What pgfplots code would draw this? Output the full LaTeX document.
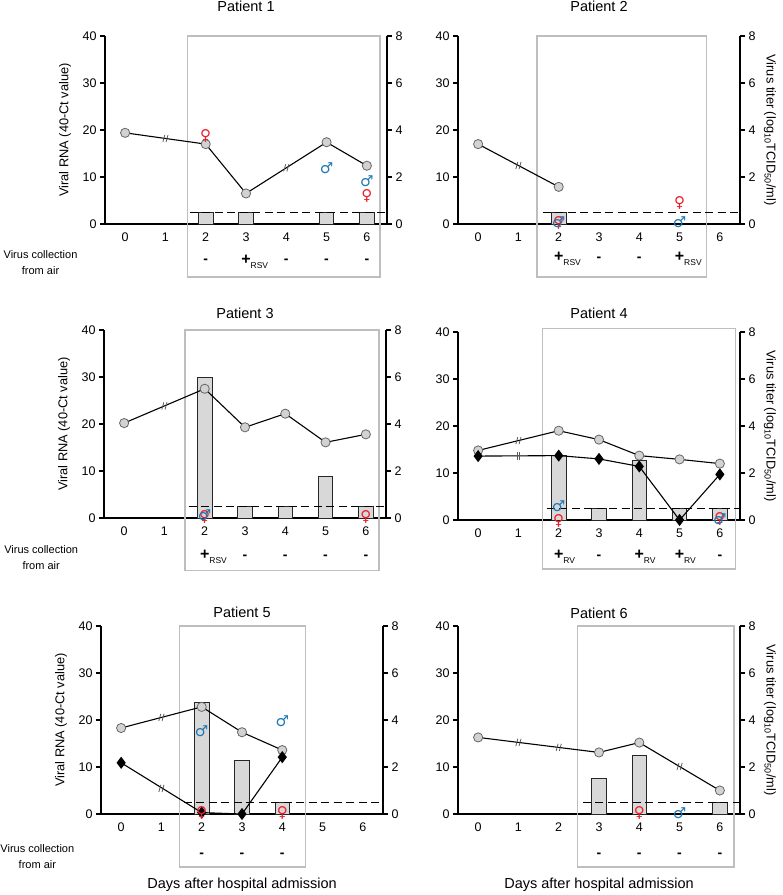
\documentclass[border=0pt]{standalone}
\usepackage{pgfplots}
\pgfplotsset{compat=1.18}
\usepackage{fontspec}
\setmainfont{Liberation Sans}
\newfontfamily\symfont{DejaVu Sans}

\definecolor{fem}{RGB}{235,30,40}
\definecolor{mal}{RGB}{30,120,180}
\definecolor{boxgray}{RGB}{190,190,190}
\definecolor{barfill}{RGB}{216,216,216}
\definecolor{circfill}{RGB}{210,210,210}

\pgfdeclareplotmark{brk}{%
  \pgfpathmoveto{\pgfqpoint{-2.6pt}{-3.6pt}}\pgfpathlineto{\pgfqpoint{-0.6pt}{3.6pt}}%
  \pgfpathmoveto{\pgfqpoint{0.6pt}{-3.6pt}}\pgfpathlineto{\pgfqpoint{2.6pt}{3.6pt}}%
  \pgfusepathqstroke}
\pgfdeclareplotmark{vbrk}{%
  \pgfpathmoveto{\pgfqpoint{-1.2pt}{-3.8pt}}\pgfpathlineto{\pgfqpoint{-1.2pt}{3.8pt}}%
  \pgfpathmoveto{\pgfqpoint{1.2pt}{-3.8pt}}\pgfpathlineto{\pgfqpoint{1.2pt}{3.8pt}}%
  \pgfusepathqstroke}

\newcommand{\plusv}[1]{\makebox[0pt][c]{\fontsize{16}{16}\selectfont\bfseries +\rlap{\raisebox{-4pt}{\mdseries\fontsize{8.5}{8.5}\selectfont #1}}}}
\newcommand{\minv}{\fontsize{14}{14}\selectfont\bfseries -}

\pgfplotsset{
  common/.style={width=282pt,height=188pt,scale only axis,anchor=south west,
    xmin=-0.5,xmax=6.5,
    axis line style={line width=1.5pt,-},
    tick align=outside, major tick length=5pt,
    tick style={line width=1.5pt,black},
    ticklabel style={font=\fontsize{12.5}{13}\selectfont},
    /pgf/number format/assume math mode=true,
    clip=false},
  panel/.style={common,ymin=0,ymax=40,
    axis x line*=bottom, axis y line*=left,
    xtick={0,...,6}, ytick={0,10,20,30,40},
    x tick style={draw=none},
    every axis title/.style={at={(0.5,1)},anchor=base,font=\fontsize{14.5}{15}\selectfont},
    every axis y label/.style={at={([xshift=-40pt]axis description cs:0,0.5)},rotate=90,anchor=center,font=\fontsize{12.8}{14}\selectfont}},
  rpanel/.style={common,ymin=0,ymax=8,
    axis x line=none, axis y line*=right, ytick={0,2,4,6,8},
    every axis y label/.style={at={([xshift=30pt]axis description cs:1,0.5)},rotate=-90,anchor=center,font=\fontsize{12.8}{14}\selectfont}},
  rna/.style={black,line width=1.1pt,mark=*,mark size=4.6pt,mark options={fill=circfill,draw=black!60,line width=0.8pt}},
  dia/.style={black,line width=1.1pt,mark=diamond*,mark size=5.2pt,mark options={fill=black}},
  bars/.style={ybar,bar width=14.5pt,fill=barfill,draw=black!85,line width=0.9pt},
  lod/.style={black,line width=1.3pt,dash pattern=on 8pt off 4.5pt},
  brks/.style={only marks,mark=brk,mark options={draw=black!65,line width=0.8pt,solid}},
  vbrks/.style={only marks,mark=vbrk,mark options={draw=black!65,line width=0.8pt,solid}},
  fsym/.style={only marks,fem,mark=text,text mark={♀},text mark as node=true,
    text mark style={font=\symfont\bfseries\fontsize{15}{15}\selectfont,text=fem,inner sep=0pt,anchor=center}},
  msym/.style={only marks,mal,mark=text,text mark={♂},text mark as node=true,
    text mark style={font=\symfont\bfseries\fontsize{15}{15}\selectfont,text=mal,inner sep=0pt,anchor=center}},
}
\newcommand{\rnalabel}{Viral RNA (40-Ct value)}
\newcommand{\titerlabel}{Virus titer (log\textsubscript{10}TCID\textsubscript{50}/ml)}
\newcommand{\vclabel}{Virus collection\\from air}

\begin{document}
\begin{tikzpicture}
\useasboundingbox (0,0) rectangle (783pt,-895pt);

% ---------------- Patient 1
\begin{axis}[panel,at={(105pt,-224pt)},title={Patient 1},title style={yshift=25pt},ylabel={\rnalabel}]
\draw[boxgray,line width=1.3pt] (axis cs:1.54,-11.3) rectangle (axis cs:6.33,40);
\addplot[bars] coordinates {(2,2.5)(3,2.5)(5,2.5)(6,2.5)};
\addplot[lod] coordinates {(1.6,2.5)(6.5,2.5)};
\addplot[rna] coordinates {(0,19.4)(2,17.0)(3,6.5)(5,17.4)(6,12.4)};
\addplot[brks] coordinates {(1,18.2)(4,11.95)};
\addplot[fsym] coordinates {(2,18.7)(6,5.9)};
\addplot[msym] coordinates {(5,11.9)(6,9.1)};
\node[align=center,font=\fontsize{11}{16}\selectfont] at (axis cs:-2.1,-8.1) {\vclabel};
\node at (axis cs:2,-8) {\minv};
\node at (axis cs:3,-8) {\plusv{RSV}};
\node at (axis cs:4,-8) {\minv};
\node at (axis cs:5,-8) {\minv};
\node at (axis cs:6,-8) {\minv};
\end{axis}
\begin{axis}[rpanel,at={(105pt,-224pt)}]
\end{axis}

% ---------------- Patient 2
\begin{axis}[panel,at={(458pt,-224pt)},title={Patient 2},title style={yshift=25pt}]
\draw[boxgray,line width=1.3pt] (axis cs:1.46,-11.3) rectangle (axis cs:5.66,40);
\addplot[bars] coordinates {(2,2.5)};
\addplot[lod] coordinates {(1.6,2.5)(6.5,2.5)};
\addplot[rna] coordinates {(0,17.0)(2,7.9)};
\addplot[brks] coordinates {(1,12.45)};
\addplot[fsym] coordinates {(2,0.2)(5,4.5)};
\addplot[msym] coordinates {(2,0.3)(5,0.3)};
\node at (axis cs:2,-7.4) {\plusv{RSV}};
\node at (axis cs:3,-7.4) {\minv};
\node at (axis cs:4,-7.4) {\minv};
\node at (axis cs:5,-7.4) {\plusv{RSV}};
\end{axis}
\begin{axis}[rpanel,at={(458pt,-224pt)},ylabel={\titerlabel}]
\end{axis}

% ---------------- Patient 3
\begin{axis}[panel,at={(104pt,-518pt)},title={Patient 3},title style={yshift=12pt},ylabel={\rnalabel}]
\draw[boxgray,line width=1.3pt] (axis cs:1.51,-11.1) rectangle (axis cs:6.33,40);
\addplot[bars] coordinates {(2,30)(3,2.5)(4,2.5)(5,8.8)(6,2.5)};
\addplot[lod] coordinates {(1.6,2.5)(6.5,2.5)};
\addplot[rna] coordinates {(0,20.2)(2,27.5)(3,19.3)(4,22.2)(5,16.1)(6,17.8)};
\addplot[brks] coordinates {(1,23.85)};
\addplot[fsym] coordinates {(2,0.2)(6,0.3)};
\addplot[msym] coordinates {(2,0.5)};
\node[align=center,font=\fontsize{11}{16}\selectfont] at (axis cs:-2.06,-8.5) {\vclabel};
\node at (axis cs:2,-8.3) {\plusv{RSV}};
\node at (axis cs:3,-8.3) {\minv};
\node at (axis cs:4,-8.3) {\minv};
\node at (axis cs:5,-8.3) {\minv};
\node at (axis cs:6,-8.3) {\minv};
\end{axis}
\begin{axis}[rpanel,at={(104pt,-518pt)}]
\end{axis}

% ---------------- Patient 4
\begin{axis}[panel,at={(458pt,-520pt)},title={Patient 4},title style={yshift=14pt}]
\draw[boxgray,line width=1.3pt] (axis cs:1.6,-10.4) rectangle (axis cs:6.38,40.8);
\addplot[bars] coordinates {(2,13.8)(3,2.5)(4,12.6)(5,2.5)(6,2.5)};
\addplot[lod] coordinates {(1.7,2.5)(6.5,2.5)};
\addplot[rna] coordinates {(0,14.8)(2,19.0)(3,17.1)(4,13.7)(5,12.9)(6,12.0)};
\addplot[dia] coordinates {(0,13.6)(2,13.7)(3,13.0)(4,11.4)(5,0)(6,9.7)};
\addplot[brks] coordinates {(1,16.9)};
\addplot[vbrks] coordinates {(1,13.65)};
\addplot[fsym] coordinates {(2,-0.2)(6,0.3)};
\addplot[msym] coordinates {(2,2.9)(6,0.2)};
\node at (axis cs:2,-7.9) {\plusv{RV}};
\node at (axis cs:3,-7.9) {\minv};
\node at (axis cs:4,-7.9) {\plusv{RV}};
\node at (axis cs:5,-7.9) {\plusv{RV}};
\node at (axis cs:6,-7.9) {\minv};
\end{axis}
\begin{axis}[rpanel,at={(458pt,-520pt)},ylabel={\titerlabel}]
\end{axis}

% ---------------- Patient 5
\begin{axis}[panel,at={(101pt,-814pt)},title={Patient 5},title style={yshift=9pt},ylabel={\rnalabel}]
\draw[boxgray,line width=1.3pt] (axis cs:1.44,-11.3) rectangle (axis cs:4.57,40);
\addplot[bars] coordinates {(2,23.8)(3,11.3)(4,2.5)};
\addplot[lod] coordinates {(1.55,2.5)(6.5,2.5)};
\addplot[rna] coordinates {(0,18.3)(2,22.8)(3,17.4)(4,13.6)};
\addplot[dia] coordinates {(0,10.9)(2,0.3)(3,0)(4,12.1)};
\addplot[brks] coordinates {(1,20.55)(1,5.45)};
\addplot[fsym] coordinates {(2,0.2)(4,0.2)};
\addplot[msym] coordinates {(2,17.6)(4,19.7)};
\node[align=center,font=\fontsize{11}{16}\selectfont] at (axis cs:-2.08,-9.1) {\vclabel};
\node at (axis cs:2,-8.7) {\minv};
\node at (axis cs:3,-8.7) {\minv};
\node at (axis cs:4,-8.7) {\minv};
\node[font=\fontsize{14.5}{15}\selectfont] at (axis cs:3,-15.0) {Days after hospital admission};
\end{axis}
\begin{axis}[rpanel,at={(101pt,-814pt)}]
\end{axis}

% ---------------- Patient 6
\begin{axis}[panel,at={(458pt,-814pt)},title={Patient 6},title style={yshift=8pt}]
\draw[boxgray,line width=1.3pt] (axis cs:2.46,-11.3) rectangle (axis cs:6.35,40);
\addplot[bars] coordinates {(3,7.5)(4,12.5)(6,2.5)};
\addplot[lod] coordinates {(2.6,2.5)(6.5,2.5)};
\addplot[rna] coordinates {(0,16.3)(3,13.1)(4,15.2)(6,5.0)};
\addplot[brks] coordinates {(1,15.23)(2,14.17)(5,10.1)};
\addplot[fsym] coordinates {(4,0.2)};
\addplot[msym] coordinates {(5,0.2)};
\node at (axis cs:3,-8.7) {\minv};
\node at (axis cs:4,-8.7) {\minv};
\node at (axis cs:5,-8.7) {\minv};
\node at (axis cs:6,-8.7) {\minv};
\node[font=\fontsize{14.5}{15}\selectfont] at (axis cs:3,-15.0) {Days after hospital admission};
\end{axis}
\begin{axis}[rpanel,at={(458pt,-814pt)},ylabel={\titerlabel}]
\end{axis}
\end{tikzpicture}
\end{document}
